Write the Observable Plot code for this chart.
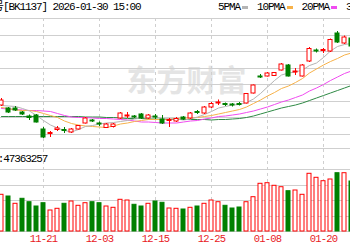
<!DOCTYPE html>
<html><head><meta charset="utf-8">
<script src="https://cdn.jsdelivr.net/npm/d3@7"></script>
<script src="https://cdn.jsdelivr.net/npm/@observablehq/plot@0.6"></script>
<style>
html,body{margin:0;padding:0;background:#fff;}
#wrap{position:relative;width:350px;height:250px;overflow:hidden;background:#fff;}
.t{position:absolute;font-family:"Liberation Mono","Noto Sans CJK SC",monospace;font-size:11px;letter-spacing:-1.1px;color:#000;white-space:nowrap;line-height:11px;}
.sw{display:inline-block;width:6px;height:3px;vertical-align:middle;margin:0 9px 0 2px;}
#p1,#p2{position:absolute;left:0;}
#p2 text{letter-spacing:-0.8px;}
</style></head><body>
<div id="wrap">
 <div id="p1" style="top:0"></div>
 <div id="p2" style="top:149px"></div>
 <div class="t" id="title" style="left:-7px;top:2px"></div>
 <div class="t" id="legend" style="left:218px;top:2px"></div>
 <div class="t" id="vlabel" style="left:-32px;top:154px"></div>
</div>
<script>
const boardName = "号";
const boardCode = "BK1137";
const stamp = "2026-01-30 15:00";
const volLabel = "成交量";
const lastVolume = 47363257;
const maNames = ["5PMA", "10PMA", "20PMA", "30PMA"];
const maColors = ["#b4b4b4", "#f7b24a", "#f04cf0", "#2f8a45"];
const watermark = "东方财富";

const dates = ["2025-11-13","2025-11-14","2025-11-17","2025-11-18","2025-11-19","2025-11-20","2025-11-21","2025-11-24","2025-11-25","2025-11-26","2025-11-27","2025-11-28","2025-12-01","2025-12-02","2025-12-03","2025-12-04","2025-12-05","2025-12-08","2025-12-09","2025-12-10","2025-12-11","2025-12-12","2025-12-15","2025-12-16","2025-12-17","2025-12-18","2025-12-19","2025-12-22","2025-12-23","2025-12-24","2025-12-25","2025-12-26","2025-12-29","2025-12-30","2025-12-31","2026-01-05","2026-01-06","2026-01-07","2026-01-08","2026-01-09","2026-01-12","2026-01-13","2026-01-14","2026-01-15","2026-01-16","2026-01-19","2026-01-20","2026-01-21","2026-01-22","2026-01-23","2026-01-26"];
const tickDates = ["2025-11-21","2025-12-03","2025-12-15","2025-12-25","2026-01-08","2026-01-20"];

const open  = [1190,1184,1184,1176,1168,1170,1142,1133,1141,1141,1136,1142,1154,1160,1154,1145,1147,1164,1168,1168,1172,1164,1168,1162,1159,1158,1166,1164,1177,1174,1186,1194,1193,1192,1193,1194,1214,1248,1248,1249,1260,1270,1256,1248,1278,1300,1299,1298,1334,1314,1324];
const close = [1200,1176,1180,1172,1165,1156,1126,1135,1144,1139,1142,1149,1164,1158,1152,1152,1152,1174,1170,1166,1164,1170,1166,1154,1161,1163,1162,1174,1175,1186,1193,1196,1191,1190,1191,1213,1230,1246,1254,1255,1272,1248,1258,1270,1303,1298,1301,1321,1316,1326,1308];
const high  = [1204,1186,1188,1178,1171,1172,1146,1138,1148,1146,1144,1150,1166,1162,1157,1154,1154,1176,1176,1170,1174,1172,1172,1170,1164,1166,1168,1176,1180,1188,1196,1201,1195,1194,1196,1214,1231,1252,1256,1256,1274,1272,1264,1272,1306,1303,1304,1323,1338,1329,1328];
const low   = [1188,1174,1178,1170,1160,1155,1124,1126,1138,1134,1134,1141,1153,1156,1148,1144,1145,1162,1164,1164,1162,1162,1162,1152,1146,1156,1160,1162,1172,1172,1184,1190,1188,1187,1189,1193,1213,1244,1247,1248,1259,1247,1250,1247,1276,1295,1294,1296,1314,1312,1306];

const ma5  = [1190,1189,1188,1184,1179,1170,1160,1151,1145,1140,1137,1142,1148,1150,1153,1155,1156,1158,1160,1163,1165,1169,1167,1164,1163,1163,1161,1163,1167,1172,1178,1185,1188,1191,1192,1196,1203,1214,1227,1240,1251,1255,1257,1261,1270,1275,1286,1299,1308,1312,1314];
const ma10 = [1186,1184,1181,1180,1180,1178,1174,1170,1166,1159,1154,1151,1149,1148,1147,1146,1149,1153,1155,1158,1160,1162,1162,1162,1163,1164,1165,1165,1166,1168,1170,1173,1176,1179,1182,1187,1194,1201,1209,1216,1224,1229,1236,1244,1255,1263,1271,1278,1284,1291,1295];
const ma20 = [1184,1183,1182,1181,1180,1180,1179,1178,1174,1170,1167,1166,1166,1165,1164,1164,1163,1162,1161,1159,1157,1157,1156,1155,1155,1155,1157,1159,1160,1163,1165,1168,1169,1171,1173,1176,1179,1183,1187,1192,1197,1201,1206,1211,1219,1225,1232,1240,1247,1254,1259];
const ma30 = [1168,1168,1168,1168,1168,1168,1168,1168,1168,1168,1168,1168,1167,1167,1167,1166,1166,1165,1164,1164,1164,1163,1163,1162,1162,1162,1162,1162,1162,1162,1161,1162,1162,1163,1164,1166,1169,1173,1177,1181,1185,1188,1191,1195,1200,1205,1210,1215,1220,1225,1230];

// volume, millions of shares
const volume = [36.7,35,27.7,32.7,29.3,25,28.3,21,22.7,27.7,30,25.7,28.3,29.3,28.3,25,23.7,31.7,31,26.7,25,27.7,30,28.7,23,22.7,22,23.7,25,27.7,31,29.3,25.7,23,24,29.3,34.3,47.7,48.3,45.7,44.3,40.3,41,36.7,57.7,53.7,50.3,52,58.3,58.3,50];
const volUp  = [1,0,1,0,0,0,0,1,1,0, 1,1,1,0,0,1,1,1,1,0, 0,1,0,0,1,1,0,1,0,1, 1,1,0,0,0,1,1,1,1,1, 1,0,1,1,1,1,1,1,0,1, 0];

const priceGrid = [1364,1330,1298,1264,1232,1198,1166,1132,1104];
const volGrid = [62,46,31,15,0];

const RED = "#ff0000", GREEN = "#008000", GRID = "#cfcfcf";

// header texts
document.getElementById("title").textContent = `${boardName}[${boardCode}] ${stamp}`;
const leg = document.getElementById("legend");
maNames.forEach((n, k) => {
  leg.appendChild(document.createTextNode(n));
  const s = document.createElement("span");
  s.className = "sw"; s.style.background = maColors[k];
  leg.appendChild(s);
});
document.getElementById("vlabel").textContent = `${volLabel}:${lastVolume}`;

const rows = dates.map((d, i) => ({date: d, open: open[i], close: close[i], high: high[i], low: low[i],
  ma5: ma5[i], ma10: ma10[i], ma20: ma20[i], ma30: ma30[i], vol: volume[i], vup: volUp[i] === 1}));
const upRows = rows.filter(r => r.close >= r.open);
const dnRows = rows.filter(r => r.close < r.open);

const xOpts = {type: "band", domain: dates, range: [-2.5, 354.5], paddingInner: 3/7, paddingOuter: 1.5/7, axis: null};

const p1 = Plot.plot({
  width: 350, height: 149, marginTop: 18, marginBottom: 1, marginLeft: 0, marginRight: 0,
  style: {background: "transparent"},
  x: xOpts,
  y: {domain: [1104, 1364], axis: null},
  marks: [
    Plot.text([watermark], {frameAnchor: "left", textAnchor: "start", dx: 126, dy: -2, fontSize: 30, fontWeight: "bold", fill: "#e4e4e4", fontFamily: "Noto Sans CJK SC"}),
    Plot.ruleY(priceGrid, {stroke: GRID}),
    Plot.ruleX(tickDates, {stroke: GRID, strokeDasharray: "3,3"}),
    Plot.line(rows, {x: "date", y: "ma30", stroke: maColors[3], strokeWidth: 1}),
    Plot.line(rows, {x: "date", y: "ma20", stroke: maColors[2], strokeWidth: 1}),
    Plot.line(rows, {x: "date", y: "ma10", stroke: maColors[1], strokeWidth: 1}),
    Plot.line(rows, {x: "date", y: "ma5", stroke: maColors[0], strokeWidth: 1}),
    Plot.ruleX(upRows, {x: "date", y1: "low", y2: "high", stroke: RED}),
    Plot.ruleX(dnRows, {x: "date", y1: "low", y2: "high", stroke: GREEN}),
    Plot.barY(upRows, {x: "date", y1: "open", y2: "close", fill: "white", stroke: RED, strokeWidth: 1}),
    Plot.barY(dnRows, {x: "date", y1: "open", y2: "close", fill: GREEN, stroke: GREEN, strokeWidth: 1})
  ]
});
document.getElementById("p1").appendChild(p1);

const p2 = Plot.plot({
  width: 350, height: 101, marginTop: 20, marginBottom: 19, marginLeft: 0, marginRight: 0,
  x: xOpts,
  y: {domain: [0, 62], axis: null},
  marks: [
    Plot.ruleY(volGrid, {stroke: GRID}),
    Plot.ruleX(tickDates, {stroke: GRID, strokeDasharray: "3,3", insetTop: -20}),
    Plot.barY(rows.filter(r => r.vup), {x: "date", y: "vol", fill: "white", stroke: RED, strokeWidth: 1}),
    Plot.barY(rows.filter(r => !r.vup), {x: "date", y: "vol", fill: GREEN, stroke: GREEN, strokeWidth: 1}),
    Plot.text(tickDates, {x: d => d, text: d => d.slice(5), frameAnchor: "bottom", dy: 10, fill: "#e8201e", fontSize: 10.5, fontFamily: "Liberation Mono"})
  ]
});
document.getElementById("p2").appendChild(p2);
</script>
</body></html>
